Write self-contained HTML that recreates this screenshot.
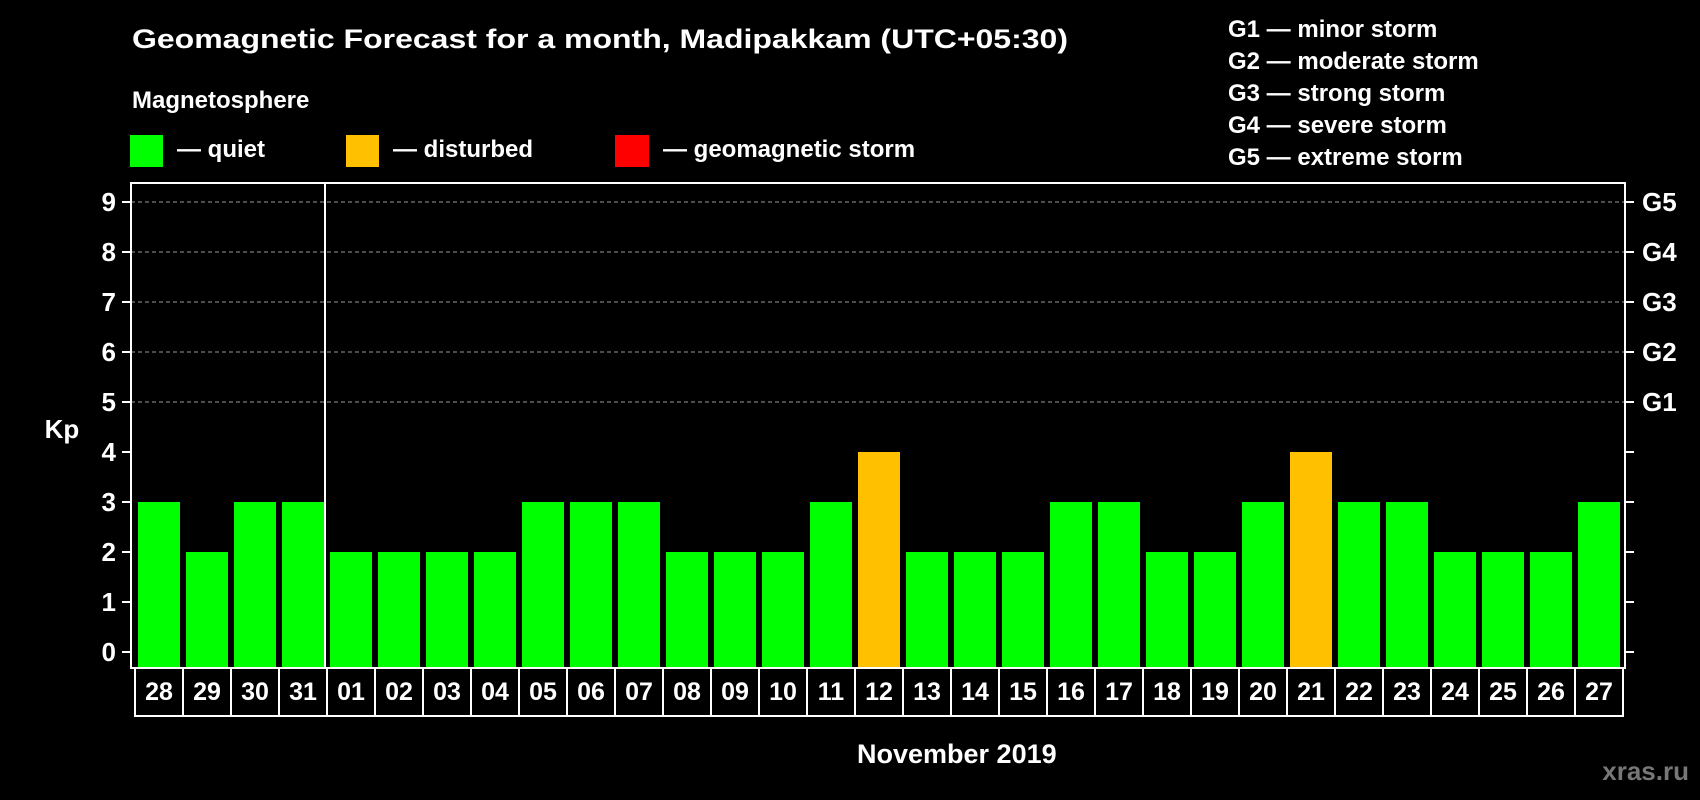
<!DOCTYPE html>
<html><head><meta charset="utf-8"><style>
html,body{margin:0;padding:0;background:#000;}
svg{display:block;font-family:"Liberation Sans",Arial,sans-serif;font-weight:bold;}
</style></head><body>
<svg id="chart" width="1700" height="800" viewBox="0 0 1700 800">
<rect x="0" y="0" width="1700" height="800" fill="#000"/>
<text x="132" y="48" fill="#fff" font-size="27" textLength="936" lengthAdjust="spacingAndGlyphs">Geomagnetic Forecast for a month, Madipakkam (UTC+05:30)</text>
<text x="132" y="108" fill="#fff" font-size="24">Magnetosphere</text>
<g>
<rect x="130" y="135" width="33" height="32" fill="#00ff00"/>
<text x="177" y="157" fill="#fff" font-size="24">— quiet</text></g>
<g>
<rect x="346" y="135" width="33" height="32" fill="#ffc000"/>
<text x="393" y="157" fill="#fff" font-size="24">— disturbed</text></g>
<g>
<rect x="615" y="135" width="34" height="32" fill="#ff0000"/>
<text x="663" y="157" fill="#fff" font-size="24">— geomagnetic storm</text></g>
<g font-size="24" fill="#fff">
<text x="1228" y="37">G1 — minor storm</text>
<text x="1228" y="69">G2 — moderate storm</text>
<text x="1228" y="101">G3 — strong storm</text>
<text x="1228" y="133">G4 — severe storm</text>
<text x="1228" y="165">G5 — extreme storm</text>
</g>
<g id="plot"></g>
<text x="62" y="438" fill="#fff" font-size="26" text-anchor="middle">Kp</text>
<text x="857" y="763" fill="#fff" font-size="27">November 2019</text>
<text x="1689" y="780" fill="#777" font-size="26" text-anchor="end">xras.ru</text>
</svg>
<script>
const days = ["28","29","30","31","01","02","03","04","05","06","07","08","09","10","11","12","13","14","15","16","17","18","19","20","21","22","23","24","25","26","27"];
const kpValues = [3,2,3,3,2,2,2,2,3,3,3,2,2,2,3,4,2,2,2,3,3,2,2,3,4,3,3,2,2,2,3];
const yTicks = [0,1,2,3,4,5,6,7,8,9];
const stormLabels = ["G1","G2","G3","G4","G5"];
const stormLevels = [5,6,7,8,9];

const NS = "http://www.w3.org/2000/svg";
const g = document.getElementById("plot");
const L = 131, R = 1625, T = 183, B = 668;
const slot0 = 135, slotW = 48;
const y = v => 652 - v * 50;
const xs = i => slot0 + i * slotW;
function mk(tag, attrs){const e=document.createElementNS(NS,tag);for(const k in attrs)e.setAttribute(k,attrs[k]);g.appendChild(e);return e;}

// grid lines
stormLevels.forEach(v=>{
  const l = mk("line",{x1:L,x2:R,y1:y(v),y2:y(v),stroke:"#999","stroke-width":1,"stroke-dasharray":"4,3"});
  
  
});
// bars
kpValues.forEach((v,i)=>{
  const r = mk("rect",{x:xs(i)+3,y:y(v),width:42,height:B-y(v),fill:v>=5?"#ff0000":(v>=4?"#ffc000":"#00ff00")});
  
  
});
// frame
const fr = mk("rect",{x:L,y:T,width:R-L,height:B-T,fill:"none",stroke:"#fff","stroke-width":2});


const dv = mk("line",{x1:xs(4)-2,x2:xs(4)-2,y1:T,y2:B,stroke:"#fff","stroke-width":2});


// y ticks
yTicks.forEach(v=>{
  const t1 = mk("line",{x1:122,x2:L,y1:y(v),y2:y(v),stroke:"#fff","stroke-width":2});
  
  
  const t2 = mk("line",{x1:R,x2:1634,y1:y(v),y2:y(v),stroke:"#fff","stroke-width":2});
  
  
  const tx = mk("text",{x:116,y:y(v)+9,fill:"#fff","font-size":26,"text-anchor":"end"});
  tx.textContent = v;
  
  
});
stormLabels.forEach((s,i)=>{
  const tx = mk("text",{x:1642,y:y(stormLevels[i])+9,fill:"#fff","font-size":26});
  tx.textContent = s;
  
  
});
// day label boxes
days.forEach((d,i)=>{
  const bx = mk("rect",{x:xs(i),y:B,width:slotW,height:48,fill:"none",stroke:"#fff","stroke-width":2});
  
  
  const tx = mk("text",{x:xs(i)+slotW/2,y:700,fill:"#fff","font-size":25,"text-anchor":"middle"});
  tx.textContent = d;
  
  
});
</script>
</body></html>
